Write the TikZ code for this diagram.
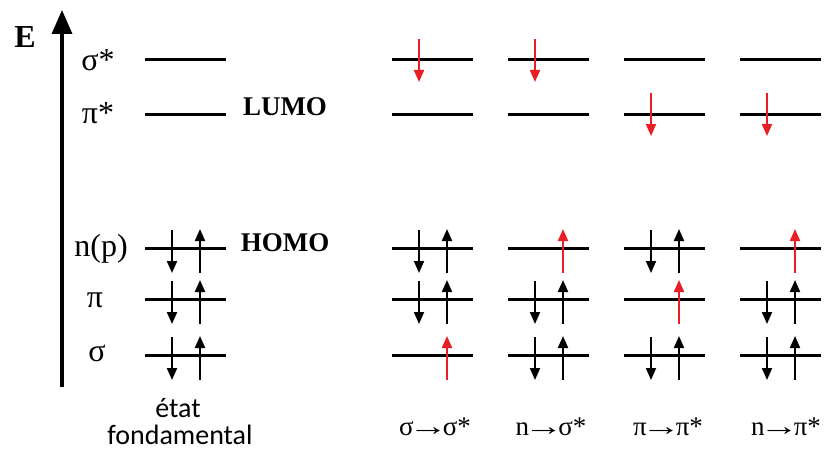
\documentclass[tikz,border=0pt]{standalone}
\usepackage{fontspec}
\usepackage{graphicx}
\setmainfont{Liberation Serif}
\newfontfamily\calfont{Carlito}
\usetikzlibrary{arrows.meta,calc}
\definecolor{ered}{RGB}{232,30,36}
\newcommand\tarr{\kern-5pt\scalebox{1.45}[1]{→}\kern-5pt}
\begin{document}
\begin{tikzpicture}[x=1pt,y=-1pt,
  level/.style={line width=3pt},
  elec/.style={line width=2pt,-{Triangle[length=12pt,width=10pt]}},
  relec/.style={elec,ered},
  axisline/.style={line width=3.4pt,-{Triangle[length=24pt,width=20pt]}},
  lbl/.style={font=\fontsize{32}{32}\selectfont,inner sep=0pt},
  bl/.style={font=\fontsize{27}{27}\selectfont\bfseries,inner sep=0pt},
  tl/.style={font=\fontsize{27}{27}\selectfont,inner sep=0pt},
  sl/.style={font=\calfont\fontsize{28}{28}\selectfont,inner sep=0pt,align=center}]
\useasboundingbox[fill=white] (0,0) rectangle (827,452);
% energy axis
\coordinate (axb) at (62,387);
\coordinate (axt) at (62,10);
\draw[axisline] (axb) -- (axt);
\node[bl,font=\fontsize{32}{32}\selectfont\bfseries] (E) at (25,37) {E};
% level coordinates and lines
\foreach \col/\x in {g/145,a/392,b/508,c/624,d/740}{
  \foreach \lev/\y in {ss/60,ps/114,np/248,pi/299,si/355}{
    \coordinate (\col-\lev-l) at (\x,\y);
    \coordinate (\col-\lev-r) at (\x+81,\y);
    \coordinate (\col-\lev-d) at (\x+27,\y);
    \coordinate (\col-\lev-u) at (\x+55,\y);
    \draw[level] (\col-\lev-l) -- (\col-\lev-r);
  }
}
% level labels
\node[lbl] (lss) at (98,60) {σ*};
\node[lbl] (lps) at (98,113) {π*};
\node[lbl] (lnp) at (101,249) {n(p)};
\node[lbl] (lpi) at (95,300) {π};
\node[lbl] (lsi) at (97,353) {σ};
\node[bl] (lumo) at (285,107) {LUMO};
\node[bl] (homo) at (285,243) {HOMO};
% electron macros
\newcommand\edown[2][elec]{\draw[#1] ($(#2-d)+(0,-18)$) -- ($(#2-d)+(0,25)$);}
\newcommand\eup[2][elec]{\draw[#1] ($(#2-u)+(0,25)$) -- ($(#2-u)+(0,-19)$);}
\newcommand\rdown[1]{\draw[relec] ($(#1-d)+(0,-21)$) -- ($(#1-d)+(0,22)$);}
% ground state
\foreach \lev in {np,pi,si}{\edown{g-\lev}\eup{g-\lev}}
% sigma -> sigma*
\edown{a-np}\eup{a-np}\edown{a-pi}\eup{a-pi}\eup[relec]{a-si}\rdown{a-ss}
% n -> sigma*
\eup[relec]{b-np}\edown{b-pi}\eup{b-pi}\edown{b-si}\eup{b-si}\rdown{b-ss}
% pi -> pi*
\edown{c-np}\eup{c-np}\eup[relec]{c-pi}\edown{c-si}\eup{c-si}\rdown{c-ps}
% n -> pi*
\eup[relec]{d-np}\edown{d-pi}\eup{d-pi}\edown{d-si}\eup{d-si}\rdown{d-ps}
% bottom labels
\node[sl] (etat) at (178,408) {état};
\node[sl] (fond) at (180,435) {fondamental};
\node[tl] (t1) at (435,427) {σ\tarr σ*};
\node[tl] (t2) at (551,427) {n\tarr σ*};
\node[tl] (t3) at (668,427) {π\tarr π*};
\node[tl] (t4) at (786,427) {n\tarr π*};
\end{tikzpicture}
\end{document}
